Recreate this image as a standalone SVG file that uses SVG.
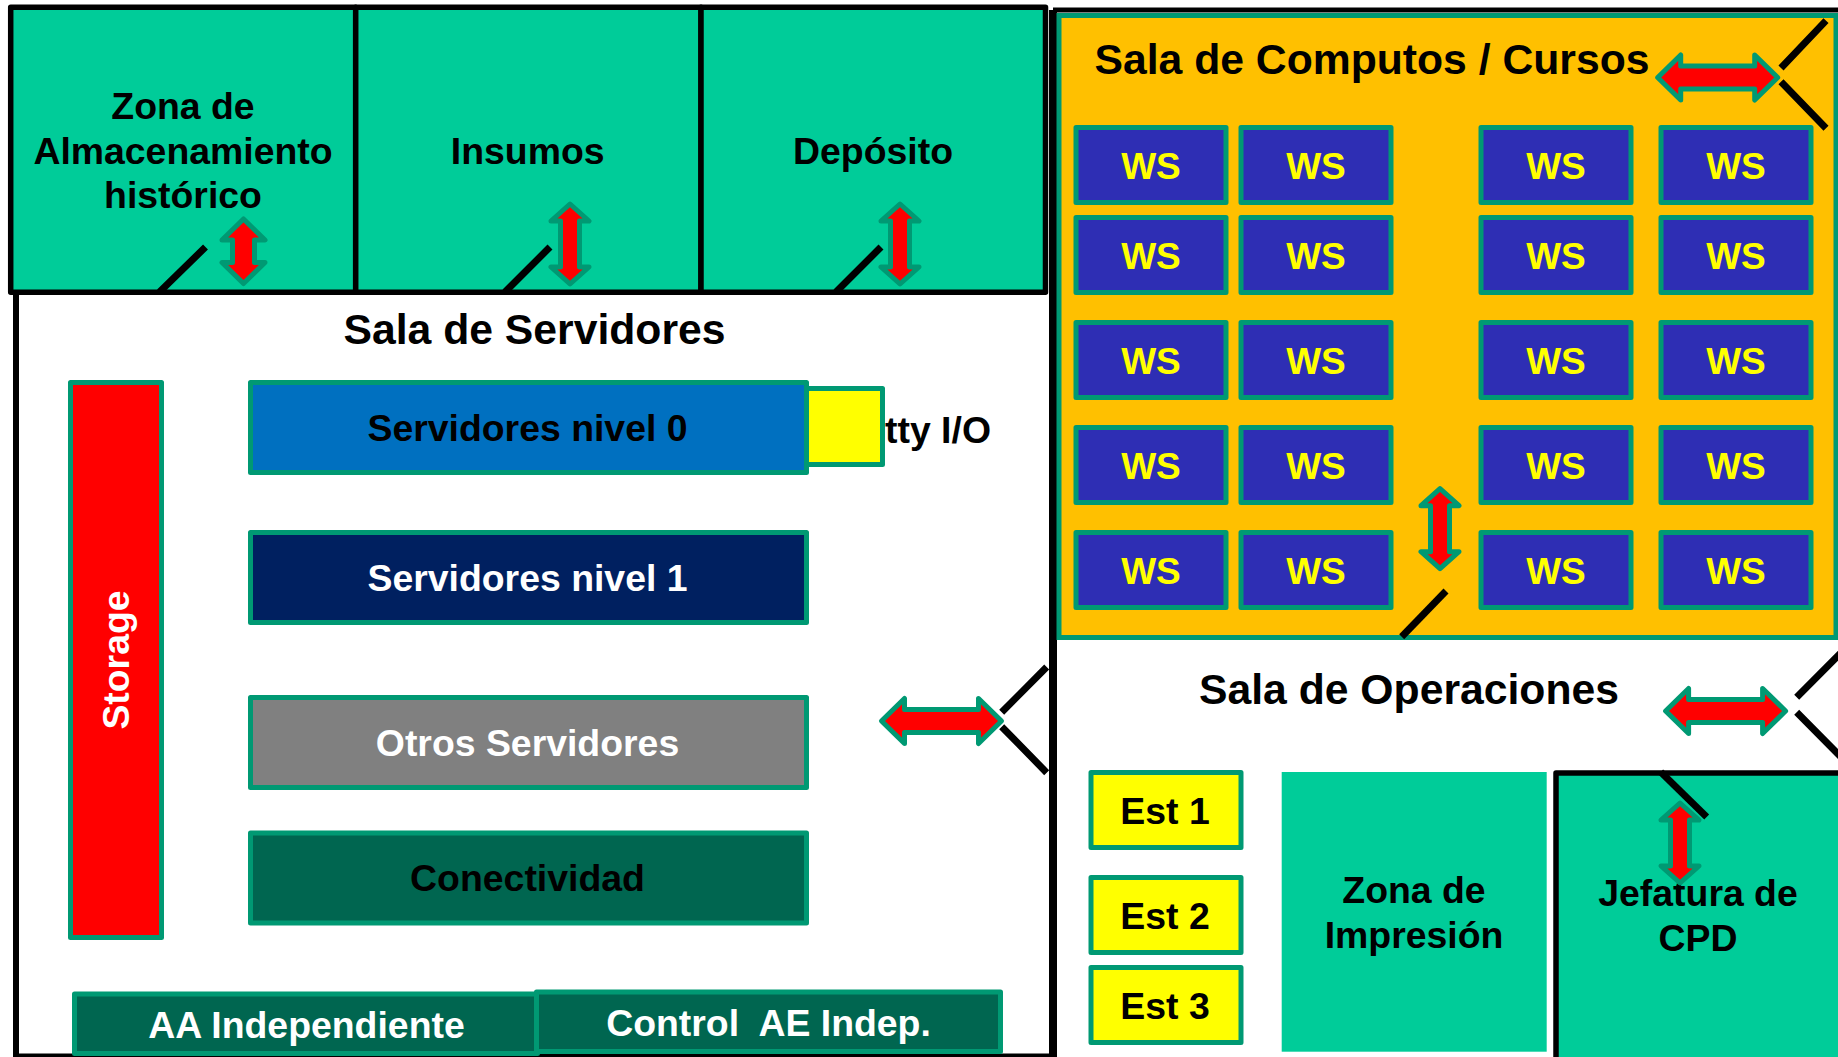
<svg xmlns="http://www.w3.org/2000/svg" width="1838" height="1057" viewBox="0 0 1838 1057">
<style>
text{font-family:"Liberation Sans",Arial,sans-serif;font-weight:700;font-size:37.4px;text-anchor:middle;fill:#000}
.t{font-size:42.7px}
.w{fill:#fff}
.y{fill:#FF0;font-size:37px}
.b{stroke:#009973;stroke-width:5;stroke-linejoin:round}
.ws{fill:#2E2EB4;stroke:#009973;stroke-width:5;stroke-linejoin:round}
.wall{fill:none;stroke:#000;stroke-width:5}
.room{fill:#0C9;stroke:#000;stroke-width:5.5;stroke-linejoin:round}
.door{stroke:#000;stroke-width:7;fill:none}
.arrow{fill:#F00;stroke:#009973;stroke-width:5;stroke-linejoin:round}
</style>
<defs>
<polygon id="ah" class="arrow" points="-60,0 -37,-22.5 -37,-11.5 37,-11.5 37,-22.5 60,0 37,22.5 37,11.5 -37,11.5 -37,22.5"/>
<polygon id="av" class="arrow" points="0,-40 19,-23 9.5,-23 9.5,23 19,23 0,40 -19,23 -9.5,23 -9.5,-23 -19,-23"/>
<rect id="wsb" class="ws" x="-75" y="-37.5" width="150" height="75"/>
</defs>
<rect width="1838" height="1057" fill="#fff"/>
<g id="walls">
<path d="M16 292V1057" stroke="#000" fill="none" stroke-width="6"/>
<path d="M1053 10H1838" class="wall"/>
<path d="M16 1056H1053" class="wall"/>
<path d="M1053 1057V10" stroke="#000" stroke-width="8"/>
</g>
<g id="zona-almacenamiento"><rect class="room" x="10.7" y="7.3" width="345" height="285"/><text x="183" y="119">Zona de</text><text x="183" y="164">Almacenamiento</text><text x="183" y="208">histórico</text></g>
<g id="insumos"><rect class="room" x="355.7" y="7.3" width="345.3" height="285"/><text x="527.7" y="164">Insumos</text></g>
<g id="deposito"><rect class="room" x="701" y="7.3" width="344.5" height="285"/><text x="873" y="164">Depósito</text></g>
<g id="sala-servidores"><text class="t" x="534.5" y="344">Sala de Servidores</text></g>
<g id="storage"><rect class="b" x="70.5" y="382.5" width="91" height="555" fill="#F00"/><text class="w" transform="translate(129 660) rotate(-90)">Storage</text></g>
<g id="tty"><text x="938" y="443">tty I/O</text><rect class="b" x="804" y="388.5" width="78.5" height="76" fill="#FF0"/></g>
<g id="servidores-0"><rect class="b" x="250.5" y="382.5" width="556" height="90" fill="#0070C0"/><text x="527.5" y="441">Servidores nivel 0</text></g>
<g id="servidores-1"><rect class="b" x="250.5" y="532.5" width="556" height="90" fill="#002060"/><text class="w" x="527.5" y="591">Servidores nivel 1</text></g>
<g id="otros"><rect class="b" x="250.5" y="697.5" width="556" height="90" fill="#808080"/><text class="w" x="527.5" y="756">Otros Servidores</text></g>
<g id="conectividad"><rect class="b" x="250.5" y="833" width="556" height="90" fill="#006650"/><text x="527.5" y="891">Conectividad</text></g>
<g id="aa"><rect class="b" x="74.5" y="994" width="463" height="59.5" fill="#006650"/><text class="w" x="306.5" y="1038">AA Independiente</text></g>
<g id="control"><rect class="b" x="536.5" y="992" width="464" height="59.5" fill="#006650"/><text class="w" x="768.5" y="1036" xml:space="preserve">Control  AE Indep.</text></g>
<g id="sala-computos"><rect x="1059" y="15.5" width="777" height="622" fill="#FFC000" stroke="#009973" stroke-width="5"/><text class="t" x="1372" y="74">Sala de Computos / Cursos</text></g>
<g id="ws-grid">
<g id="ws-1-1"><use href="#wsb" x="1151" y="165"/><text class="y" x="1151" y="179">WS</text></g>
<g id="ws-1-2"><use href="#wsb" x="1316" y="165"/><text class="y" x="1316" y="179">WS</text></g>
<g id="ws-1-3"><use href="#wsb" x="1556" y="165"/><text class="y" x="1556" y="179">WS</text></g>
<g id="ws-1-4"><use href="#wsb" x="1736" y="165"/><text class="y" x="1736" y="179">WS</text></g>
<g id="ws-2-1"><use href="#wsb" x="1151" y="255"/><text class="y" x="1151" y="269">WS</text></g>
<g id="ws-2-2"><use href="#wsb" x="1316" y="255"/><text class="y" x="1316" y="269">WS</text></g>
<g id="ws-2-3"><use href="#wsb" x="1556" y="255"/><text class="y" x="1556" y="269">WS</text></g>
<g id="ws-2-4"><use href="#wsb" x="1736" y="255"/><text class="y" x="1736" y="269">WS</text></g>
<g id="ws-3-1"><use href="#wsb" x="1151" y="360"/><text class="y" x="1151" y="374">WS</text></g>
<g id="ws-3-2"><use href="#wsb" x="1316" y="360"/><text class="y" x="1316" y="374">WS</text></g>
<g id="ws-3-3"><use href="#wsb" x="1556" y="360"/><text class="y" x="1556" y="374">WS</text></g>
<g id="ws-3-4"><use href="#wsb" x="1736" y="360"/><text class="y" x="1736" y="374">WS</text></g>
<g id="ws-4-1"><use href="#wsb" x="1151" y="465"/><text class="y" x="1151" y="479">WS</text></g>
<g id="ws-4-2"><use href="#wsb" x="1316" y="465"/><text class="y" x="1316" y="479">WS</text></g>
<g id="ws-4-3"><use href="#wsb" x="1556" y="465"/><text class="y" x="1556" y="479">WS</text></g>
<g id="ws-4-4"><use href="#wsb" x="1736" y="465"/><text class="y" x="1736" y="479">WS</text></g>
<g id="ws-5-1"><use href="#wsb" x="1151" y="570"/><text class="y" x="1151" y="584">WS</text></g>
<g id="ws-5-2"><use href="#wsb" x="1316" y="570"/><text class="y" x="1316" y="584">WS</text></g>
<g id="ws-5-3"><use href="#wsb" x="1556" y="570"/><text class="y" x="1556" y="584">WS</text></g>
<g id="ws-5-4"><use href="#wsb" x="1736" y="570"/><text class="y" x="1736" y="584">WS</text></g>
</g>
<g id="sala-operaciones"><text class="t" x="1409" y="704">Sala de Operaciones</text></g>
<g id="est-1"><rect class="b" x="1091" y="772.5" width="150" height="75" fill="#FF0"/><text x="1165" y="824">Est 1</text></g>
<g id="est-2"><rect class="b" x="1091" y="877.5" width="150" height="75" fill="#FF0"/><text x="1165" y="929">Est 2</text></g>
<g id="est-3"><rect class="b" x="1091" y="967.5" width="150" height="75" fill="#FF0"/><text x="1165" y="1019">Est 3</text></g>
<g id="zona-impresion"><rect x="1281.7" y="772" width="265" height="279.7" fill="#0C9"/><text x="1414" y="903">Zona de</text><text x="1414" y="948">Impresión</text></g>
<g id="jefatura"><rect class="room" x="1556" y="773" width="290" height="295"/><text x="1698" y="906">Jefatura de</text><text x="1698" y="951">CPD</text></g>
<g id="connectors">
<polygon class="arrow" points="243.5,219 265,240 254.5,240 254.5,262.5 265,262.5 243.5,283.5 222,262.5 232.5,262.5 232.5,240 222,240"/>
<use href="#av" x="570" y="244"/>
<use href="#av" x="900" y="244"/>
<use href="#av" x="1440" y="528.7"/>
<use href="#av" x="1680" y="843"/>
<use href="#ah" x="941.5" y="721"/>
<use href="#ah" x="1717.7" y="77.5"/>
<use href="#ah" x="1725.6" y="711"/>
<path class="door" d="M159.5 292L205.5 247M505 292L550 247M836 292L881 247"/>
<path class="door" d="M1001.7 712.3L1046.7 667M1001.7 726.7L1046.7 772.7"/>
<path class="door" d="M1781 68L1826 20.7M1781 81.7L1826 128.3"/>
<path class="door" d="M1401.7 636.7L1446 591"/>
<path class="door" d="M1796.7 697.3L1842 651.7M1796.7 712.3L1842 758"/>
<path class="door" d="M1660.7 772L1706.7 817"/>
</g>
</svg>
